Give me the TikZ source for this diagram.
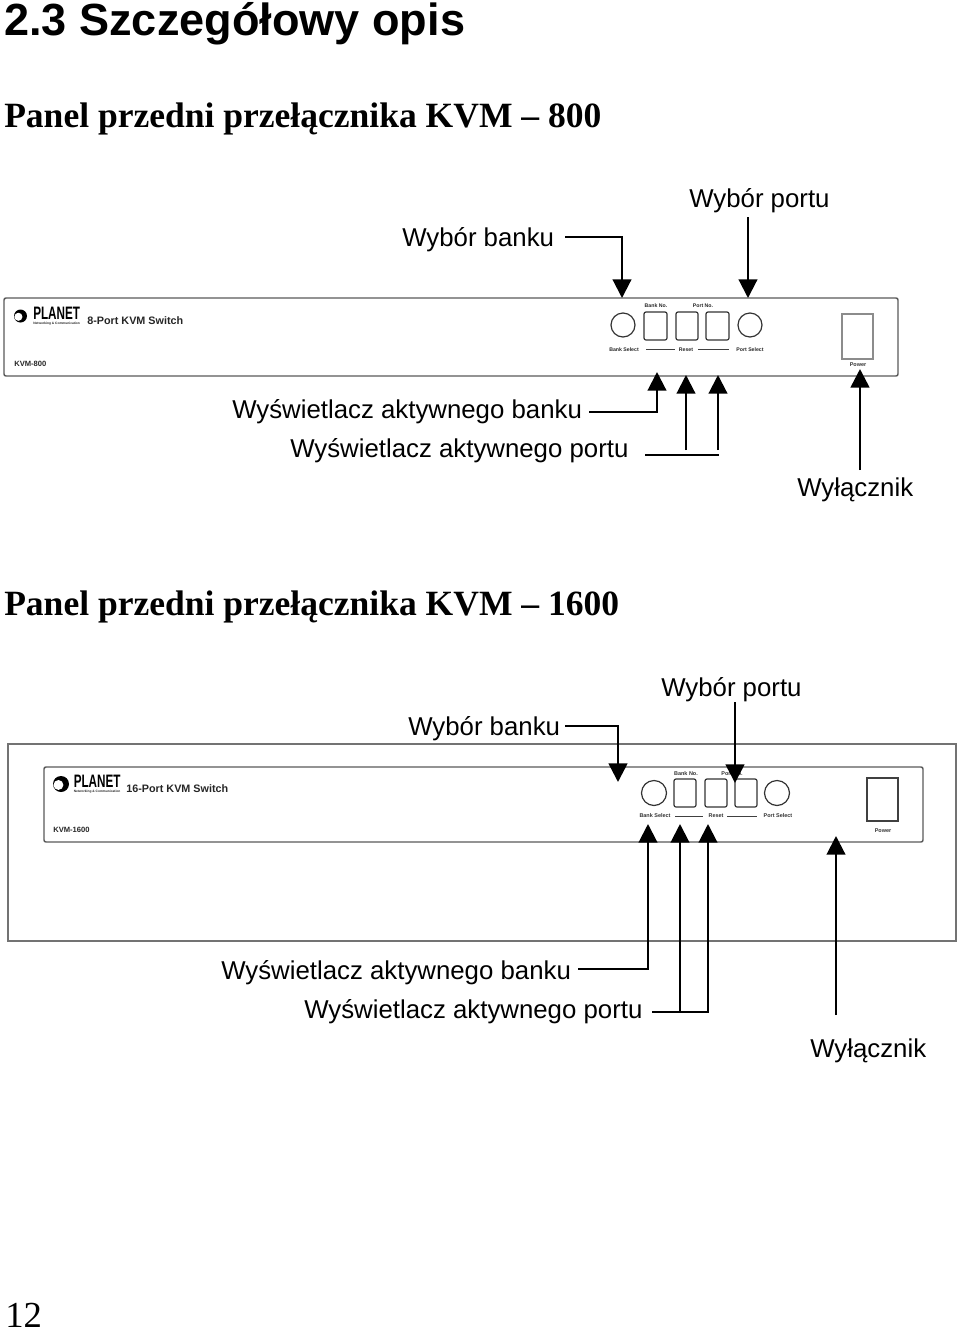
\documentclass[tikz,border=0pt]{standalone}
\usepackage{fontspec}
\setmainfont{Liberation Sans}
\newfontfamily\serifbf{Liberation Serif}
\usetikzlibrary{arrows.meta}
\newcommand{\fs}[1]{\fontsize{#1}{#1}\selectfont}
\tikzset{
  x=0.75pt,y=-0.75pt,
  txt/.style={inner sep=0pt,anchor=base west,text=black},
  heading/.style={txt,font=\fs{33.8}\bfseries},
  title/.style={txt,font=\serifbf\fs{26.65}\bfseries},
  lbl/.style={txt,font=\fs{19.35}},
  tip/.style={-{Triangle[length=14pt,width=14pt]}},
  conn/.style={draw=black,line width=1.6pt,tip},
  heavy/.style={draw=black,line width=2pt,tip},
  plain/.style={draw=black,line width=2pt},
  panel/.style={draw=black!65,line width=1.1pt,rounded corners=1.5pt},
  outer/.style={draw=black!55,line width=1.1pt},
  key/.style={draw=black!80,line width=0.9pt,rounded corners=1.5pt},
  knob/.style={draw=black!80,line width=0.9pt},
  pow/.style={draw=black!45,line width=0.9pt},
  pow2/.style={draw=black!75,line width=0.9pt},
  rule/.style={draw=black!75,line width=0.6pt},
  tiny/.style={inner sep=0pt,font=\fs{3.9}\bfseries,text=black!85},
  tinyb/.style={inner sep=0pt,font=\fs{4.1}\bfseries,text=black!80},
  model/.style={inner sep=0pt,anchor=base west,font=\fs{5.7}\bfseries,text=black!85},
  logoT/.style={inner sep=0pt,anchor=base west,font=\fs{13.5}\bfseries,text=black},
  logoS/.style={inner sep=0pt,anchor=base west,font=\fs{2.45}\bfseries,text=black!85},
  sw/.style={inner sep=0pt,anchor=base west,font=\fs{8.1}\bfseries,text=black!85},
}
\newcommand{\logo}[4]{% x, y of disc centre, radius, prefix
  \fill[black] (#1,#2) circle[radius=#3];
  \fill[white] (#1-0.32*#3,#2+0.12*#3) circle[radius=0.62*#3];
  \node[logoT] (#4logo) at (33+#1-20.5,319+#2-316) {\scalebox{0.65}[1]{PLANET}};
  \node[logoS] (#4logosub) at (33+#1-20.5,324.7+#2-316) {Networking \& Communication};
}
\begin{document}
\begin{tikzpicture}
\useasboundingbox (0,0) rectangle (960,1332);

\node[heading] (h) at (4,35) {2.3 Szczegółowy opis};
\node[title] (t1) at (4,127) {Panel przedni przełącznika KVM – 800};
\node[title] (t2) at (4,615) {Panel przedni przełącznika KVM – 1600};
\node[inner sep=0pt,anchor=base west,font=\serifbf\fs{27.5}] (pg) at (5,1327) {12};

% ---------- KVM-800 panel
\draw[panel] (4,298) rectangle (898,376);
\logo{20.5}{316}{6.5}{a}
\node[sw] (a8) at (87,324) {8-Port KVM Switch};
\node[model] (akvm) at (14,366) {KVM-800};
\draw[knob] (623,325) circle[radius=12] (750,325) circle[radius=12];
\draw[key] (644,312) rectangle (667,340);
\draw[key] (676,312) rectangle (698,340);
\draw[key] (706,312) rectangle (729,340);
\draw[pow] (842,314) rectangle (873,359);
\draw[rule] (646,349) -- (675,349) (698,349) -- (729,349);
\node[tiny] (a1) at (656,306) {Bank No.};
\node[tiny] (a2) at (703,306) {Port No.};
\node[tiny] (a3) at (624,349.5) {Bank Select};
\node[tiny] (a4) at (686,349.5) {Reset};
\node[tiny] (a5) at (750,349.5) {Port Select};
\node[tinyb] (a6) at (858,365) {Power};

% labels
\node[lbl] (wb1) at (402,246) {Wybór banku};
\node[lbl] (wp1) at (689,207) {Wybór portu};
\node[lbl] (db1) at (232,418) {Wyświetlacz aktywnego banku};
\node[lbl] (dp1) at (290,457) {Wyświetlacz aktywnego portu};
\node[lbl] (pw1) at (797,496) {Wyłącznik};

\coordinate (wb1s) at (565,237);  \coordinate (wb1e) at (622,298);
\coordinate (wp1s) at (748,217);  \coordinate (wp1e) at (748,298);
\coordinate (db1s) at (589,412);  \coordinate (db1e) at (657,372);
\coordinate (dp1a) at (686,450);  \coordinate (dp1f) at (686,375);
\coordinate (dp1b) at (718,450);  \coordinate (dp1e) at (718,375);
\coordinate (dp1s) at (645,455);  \coordinate (dp1t) at (719,455);
\coordinate (pw1s) at (860,470);  \coordinate (pw1e) at (860,369);
\draw[conn] (wb1s) -| (wb1e);
\draw[conn] (wp1s) -- (wp1e);
\draw[conn] (db1s) -| (db1e);
\draw[conn] (dp1a) -- (dp1f);
\draw[conn] (dp1b) -- (dp1e);
\draw[plain] (dp1s) -- (dp1t);
\draw[heavy] (pw1s) -- (pw1e);

% ---------- KVM-1600 panel
\draw[outer] (8,744) rectangle (956,941);
\draw[panel] (44,767) rectangle (923,842);
\logo{61}{784}{8}{b}
\node[sw] (b8) at (126,792) {16-Port KVM Switch};
\node[model] (bkvm) at (53,832) {KVM-1600};
\draw[knob] (654,793) circle[radius=12.5] (777,793) circle[radius=12.5];
\draw[key] (674,779) rectangle (696,807);
\draw[key] (705,779) rectangle (727,807);
\draw[key] (735,779) rectangle (757,807);
\draw[pow2] (867,778) rectangle (898,821);
\draw[rule] (675,816) -- (703,816) (727,816) -- (757,816);
\node[tinyb] (b1) at (686,774) {Bank No.};
\node[tinyb] (b2) at (732,774) {Port No.};
\node[tinyb] (b3) at (655,816) {Bank Select};
\node[tinyb] (b4) at (716,816) {Reset};
\node[tinyb] (b5) at (778,816) {Port Select};
\node[tinyb] (b6) at (883,831) {Power};

\node[lbl] (wb2) at (408,735) {Wybór banku};
\node[lbl] (wp2) at (661,696) {Wybór portu};
\node[lbl] (db2) at (221,979) {Wyświetlacz aktywnego banku};
\node[lbl] (dp2) at (304,1018) {Wyświetlacz aktywnego portu};
\node[lbl] (pw2) at (810,1057) {Wyłącznik};

\coordinate (wb2s) at (565,726);  \coordinate (wb2e) at (618,782);
\coordinate (wp2s) at (735,702);  \coordinate (wp2e) at (735,783);
\coordinate (db2s) at (578,969);  \coordinate (db2e) at (648,824);
\coordinate (dp2s) at (652,1012); \coordinate (dp2e) at (708,824);
\coordinate (dp2j) at (680,1012); \coordinate (dp2f) at (680,824);
\coordinate (pw2s) at (836,1015); \coordinate (pw2e) at (836,836);
\draw[heavy] (wb2s) -| (wb2e);
\draw[heavy] (wp2s) -- (wp2e);
\draw[conn] (db2s) -| (db2e);
\draw[conn] (dp2s) -| (dp2e);
\draw[conn] (dp2j) -- (dp2f);
\draw[conn] (pw2s) -- (pw2e);
\end{tikzpicture}
\end{document}
